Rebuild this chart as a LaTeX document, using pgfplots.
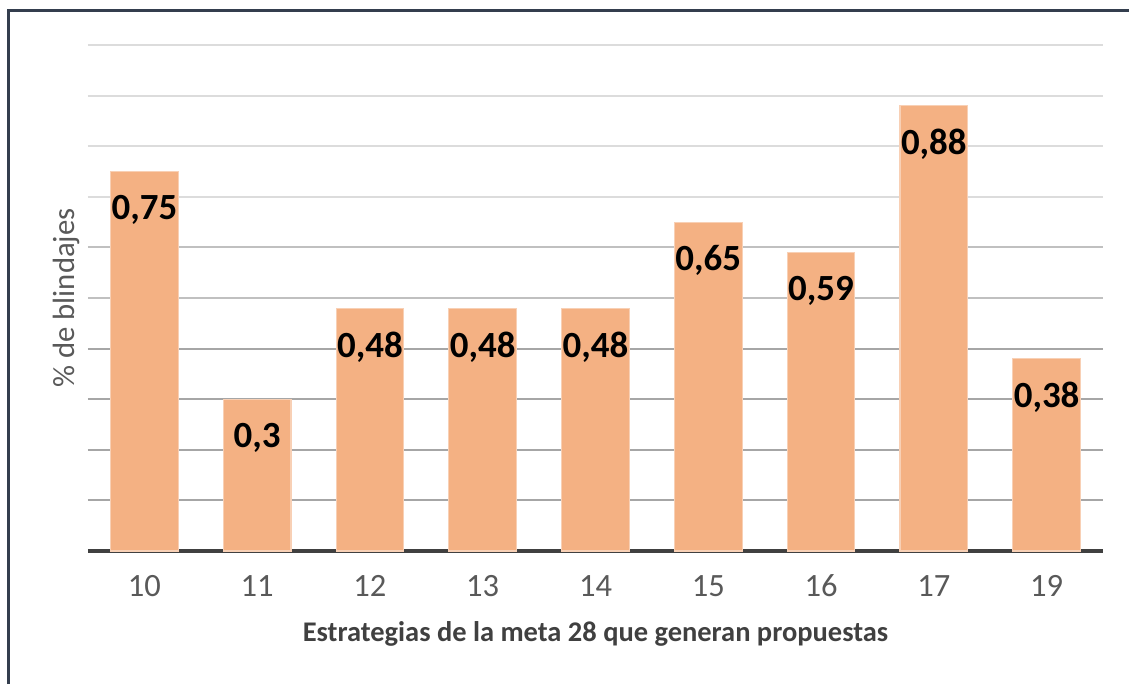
\documentclass[border=0pt]{standalone}
\usepackage{fontspec}
\setmainfont{Carlito}
\usepackage{pgfplots}
\pgfplotsset{compat=1.18}
\definecolor{barfill}{RGB}{244,177,131}
\definecolor{framecol}{RGB}{52,62,78}
\definecolor{ticktext}{RGB}{89,89,89}
\definecolor{labtext}{RGB}{64,64,64}
\definecolor{gridA}{RGB}{166,166,166}
\definecolor{gridB}{RGB}{192,192,192}
\definecolor{gridC}{RGB}{220,220,220}

\begin{document}
\begin{tikzpicture}
\fill[white] (0,0) rectangle (22.58cm,13.68cm);
\begin{axis}[
    at={(1.76cm,2.66cm)}, anchor=south west,
    scale only axis,
    width=20.3cm, height=10.12cm,
    ybar, bar width=0.6,
    xmin=-0.5, xmax=8.5,
    ymin=0, ymax=1.0,
    xtick=data,
    xticklabels={10,11,12,13,14,15,16,17,19},
    ytick=\empty,
    major tick length=0pt,
    axis x line*=bottom,
    axis y line*=left,
    x axis line style={line width=2.3pt, labtext, -},
    y axis line style={draw=none},
    xticklabel style={font=\fontsize{18.5}{18.5}\selectfont, text=ticktext,
        anchor=base, yshift=-26pt},
    xlabel={Estrategias de la meta 28 que generan propuestas},
    xlabel style={at={(axis description cs:0.5,0)}, anchor=center, yshift=-47pt,
        font=\fontsize{16.2}{16.2}\selectfont\bfseries, text=labtext},
    ylabel={\% de blindajes},
    ylabel style={at={(axis description cs:0,0.5)}, anchor=center, yshift=12pt,
        font=\fontsize{17.5}{17.5}\selectfont, text=ticktext},
    /pgf/number format/.cd, use comma, assume math mode=true, /pgfplots/.cd,
    nodes near coords,
    every node near coord/.append style={anchor=center, yshift=-22pt,
        font=\fontsize{21}{21}\selectfont\bfseries, text=black},
]
% grid lines first, so the bars cover them
\pgfplotsinvokeforeach{0.1,0.2,0.3,0.4}{
  \draw[gridA, line width=1.1pt] (axis cs:-0.5,#1) -- (axis cs:8.5,#1);}
\pgfplotsinvokeforeach{0.5,0.6}{
  \draw[gridB, line width=1.1pt] (axis cs:-0.5,#1) -- (axis cs:8.5,#1);}
\pgfplotsinvokeforeach{0.7,0.8,0.9,1.0}{
  \draw[gridC, line width=1.1pt] (axis cs:-0.5,#1) -- (axis cs:8.5,#1);}
\addplot[fill=barfill, draw=barfill!60!white, line width=0.6pt] coordinates {
    (0,0.75) (1,0.3) (2,0.48) (3,0.48) (4,0.48) (5,0.65) (6,0.59) (7,0.88) (8,0.38)
};
\end{axis}
\draw[framecol, line width=0.06cm] (0.18cm,0) -- (0.18cm,13.46cm) -- (22.58cm,13.46cm);
\pgfresetboundingbox
\useasboundingbox (0,0) rectangle (22.58cm,13.68cm);
\end{tikzpicture}
\end{document}
